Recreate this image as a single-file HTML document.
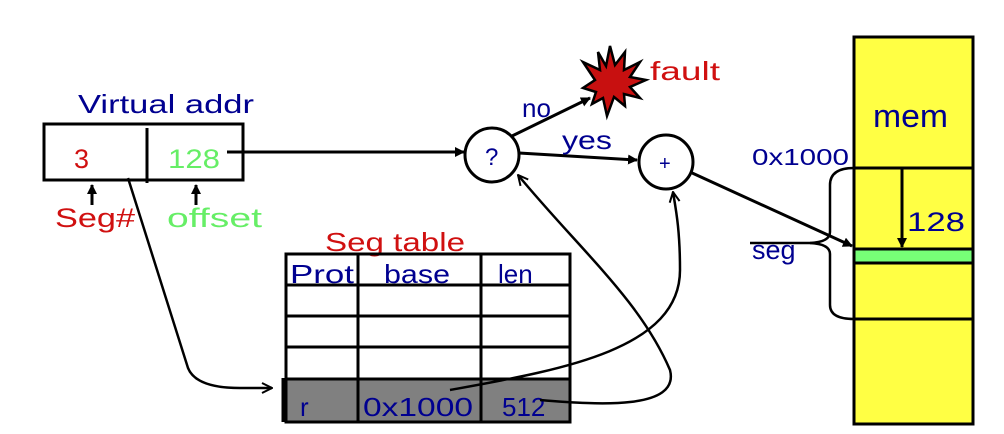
<!DOCTYPE html>
<html><head><style>
html,body{margin:0;padding:0;background:#fff;}
svg{display:block;}
text{font-family:"Liberation Sans",sans-serif;}
</style></head><body>
<svg width="1004" height="434" viewBox="0 0 1004 434" xmlns="http://www.w3.org/2000/svg">
<defs>
<marker id="a" markerWidth="10" markerHeight="10" refX="9" refY="5" orient="auto" markerUnits="userSpaceOnUse"><path d="M0,0 L10,5 L0,10 z" fill="#000"/></marker>
<marker id="o" markerWidth="12" markerHeight="12" refX="11" refY="6" orient="auto" markerUnits="userSpaceOnUse"><path d="M1,1 L11,6 L1,11" fill="none" stroke="#000" stroke-width="2"/></marker>
</defs>
<text x="78" y="113" font-size="26" fill="#000090" textLength="176" lengthAdjust="spacingAndGlyphs">Virtual addr</text>
<rect x="44" y="124" width="199" height="56" fill="none" stroke="#000" stroke-width="3"/>
<line x1="147" y1="128" x2="147" y2="183" stroke="#000" stroke-width="3"/>
<text x="74" y="168" font-size="27" fill="#d01010">3</text>
<text x="168" y="168" font-size="27" fill="#66ee66" textLength="52" lengthAdjust="spacingAndGlyphs">128</text>
<line x1="92" y1="205" x2="92" y2="185" stroke="#000" stroke-width="3" marker-end="url(#a)"/>
<line x1="196" y1="205" x2="196" y2="185" stroke="#000" stroke-width="3" marker-end="url(#a)"/>
<text x="55" y="227" font-size="27" fill="#d01010" textLength="80" lengthAdjust="spacingAndGlyphs">Seg#</text>
<text x="167" y="227" font-size="27" fill="#66ee66" textLength="95" lengthAdjust="spacingAndGlyphs">offset</text>
<line x1="227" y1="152" x2="464" y2="152" stroke="#000" stroke-width="3" marker-end="url(#a)"/>
<path d="M128,178 L188,368 Q196,388 240,388 L272,388" fill="none" stroke="#000" stroke-width="2.5" marker-end="url(#o)"/>
<text x="325" y="251" font-size="26" fill="#d01010" textLength="140" lengthAdjust="spacingAndGlyphs">Seg table</text>
<rect x="285" y="380" width="285" height="42" fill="#808080"/>
<rect x="286" y="254" width="284" height="168" fill="none" stroke="#000" stroke-width="3"/>
<line x1="286" y1="285" x2="570" y2="285" stroke="#000" stroke-width="3"/>
<line x1="286" y1="316" x2="570" y2="316" stroke="#000" stroke-width="3"/>
<line x1="286" y1="347" x2="570" y2="347" stroke="#000" stroke-width="3"/>
<line x1="286" y1="379" x2="570" y2="379" stroke="#000" stroke-width="3"/>
<line x1="358" y1="254" x2="358" y2="422" stroke="#000" stroke-width="3"/>
<line x1="481" y1="254" x2="481" y2="422" stroke="#000" stroke-width="3"/>
<line x1="284" y1="378" x2="284" y2="422" stroke="#000" stroke-width="5"/>
<text x="290" y="283" font-size="26" fill="#000090" textLength="64" lengthAdjust="spacingAndGlyphs">Prot</text>
<text x="384" y="283" font-size="26" fill="#000090" textLength="66" lengthAdjust="spacingAndGlyphs">base</text>
<text x="498" y="283" font-size="26" fill="#000090">len</text>
<text x="300" y="416" font-size="26" fill="#000090">r</text>
<text x="363" y="416" font-size="26" fill="#000090" textLength="110" lengthAdjust="spacingAndGlyphs">0x1000</text>
<text x="502" y="416" font-size="26" fill="#000090">512</text>
<circle cx="492" cy="155" r="27" fill="#fff" stroke="#000" stroke-width="3"/>
<text x="485" y="165" font-size="24" fill="#000090">?</text>
<circle cx="666" cy="162" r="27" fill="#fff" stroke="#000" stroke-width="3"/>
<text x="659" y="170" font-size="20" fill="#000090">+</text>
<line x1="512" y1="136" x2="590" y2="98" stroke="#000" stroke-width="3" marker-end="url(#a)"/>
<text x="522" y="117" font-size="26" fill="#000090">no</text>
<line x1="519" y1="153" x2="637" y2="160" stroke="#000" stroke-width="3" marker-end="url(#a)"/>
<text x="562" y="149" font-size="26" fill="#000090" textLength="50" lengthAdjust="spacingAndGlyphs">yes</text>
<polygon points="610,46 615,65 625,52 624,70 640,62 630,77 646,80 630,87 640,98 624,94 625,106 614,97 607,116 603,98 592,104 596,92 583,88 595,80 583,62 600,70 598,52 606,66" fill="#c81010" stroke="#000" stroke-width="2.5"/>
<text x="650" y="80" font-size="26" fill="#d01010" textLength="70" lengthAdjust="spacingAndGlyphs">fault</text>
<path d="M450,390 C560,370 680,350 680,270 C680,230 676,210 673,192" fill="none" stroke="#000" stroke-width="2.5" marker-end="url(#o)"/>
<path d="M540,400 C600,405 680,410 670,370 C640,300 580,250 518,175" fill="none" stroke="#000" stroke-width="2.5" marker-end="url(#o)"/>
<rect x="854" y="37" width="119" height="387" fill="#ffff44" stroke="#000" stroke-width="3"/>
<rect x="854" y="249" width="119" height="14" fill="#77ff77" stroke="#000" stroke-width="3"/>
<line x1="854" y1="168" x2="973" y2="168" stroke="#000" stroke-width="3"/>
<line x1="854" y1="319" x2="973" y2="319" stroke="#000" stroke-width="3"/>
<text x="873" y="127" font-size="32" fill="#000090" textLength="75" lengthAdjust="spacingAndGlyphs">mem</text>
<text x="752" y="165" font-size="23" fill="#000090" textLength="97" lengthAdjust="spacingAndGlyphs">0x1000</text>
<text x="907" y="231" font-size="27" fill="#000090" textLength="58" lengthAdjust="spacingAndGlyphs">128</text>
<line x1="902" y1="169" x2="902" y2="247" stroke="#000" stroke-width="3" marker-end="url(#a)"/>
<line x1="690" y1="172" x2="852" y2="246" stroke="#000" stroke-width="3" marker-end="url(#a)"/>
<path d="M854,168 Q830,168 830,185 L830,232 Q830,242 810,243 L750,243" fill="none" stroke="#000" stroke-width="2.5"/>
<path d="M810,243 Q830,244 830,254 L830,305 Q830,319 854,319" fill="none" stroke="#000" stroke-width="2.5"/>
<text x="752" y="259" font-size="27" fill="#000090">seg</text>
</svg>
</body></html>
